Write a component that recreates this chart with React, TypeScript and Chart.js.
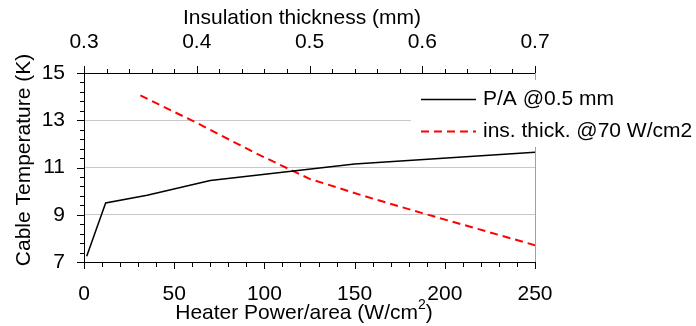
import React, { useEffect, useRef } from "react";
import { Chart, registerables } from "chart.js";

Chart.register(...registerables);

// Heater power/area (W/cm2) vs cable temperature (K), at 0.5 mm insulation
const powerValues = [1.5, 12, 35, 70, 150, 250];
const powerTemps = [7.24, 9.5, 9.83, 10.45, 11.15, 11.65];
// Insulation thickness (mm) vs cable temperature (K), at 70 W/cm2
const thickValues = [0.35, 0.4, 0.45, 0.5, 0.55, 0.6, 0.7];
const thickTemps = [14.05, 12.89, 11.66, 10.52, 9.77, 9.07, 7.71];

const seriesLabels = ["P/A @0.5 mm", "ins. thick. @70 W/cm2"];
const powerRange = [0, 250];
const thickRange = [0.3, 0.7];
const tempRange = [7, 15];
const powerStep = 50;
const thickStep = 0.1;
const tempStep = 2;

const FONT = '"Liberation Sans", Arial, Helvetica, sans-serif';

const decoPlugin = {
  id: "deco",
  afterDraw(chart: any) {
    const ctx = chart.ctx;
    const area = chart.chartArea;
    const sx = chart.scales.x;
    const sx2 = chart.scales.x2;
    const sy = chart.scales.y;
    ctx.save();
    ctx.strokeStyle = "#000";
    ctx.lineWidth = 1;
    // bottom ticks
    for (let i = 0; i <= 25; i++) {
      const v = i * 10;
      const px = Math.round(sx.getPixelForValue(v)) + 0.5;
      const len = i % 5 === 0 ? 7 : 5;
      ctx.beginPath();
      ctx.moveTo(px, area.bottom);
      ctx.lineTo(px, area.bottom + len);
      ctx.stroke();
    }
    // top ticks
    for (let i = 0; i <= 20; i++) {
      const v = 0.3 + i * 0.02;
      const px = Math.round(sx2.getPixelForValue(v)) + 0.5;
      const len = i % 5 === 0 ? 7 : 4;
      ctx.beginPath();
      ctx.moveTo(px, area.top);
      ctx.lineTo(px, area.top - len);
      ctx.stroke();
    }
    // left ticks
    for (let i = 0; i <= 20; i++) {
      const v = 7 + i * 0.4;
      const py = Math.round(sy.getPixelForValue(v)) + 0.5;
      const len = i % 5 === 0 ? 7 : 4;
      ctx.beginPath();
      ctx.moveTo(area.left, py);
      ctx.lineTo(area.left - len, py);
      ctx.stroke();
    }
    // right border (gray)
    ctx.strokeStyle = "#a0a0a0";
    ctx.beginPath();
    ctx.moveTo(Math.round(area.right) + 0.5, area.top);
    ctx.lineTo(Math.round(area.right) + 0.5, area.bottom);
    ctx.stroke();

    // axis titles
    ctx.fillStyle = "#000";
    ctx.font = `21px ${FONT}`;
    ctx.textBaseline = "middle";
    ctx.textAlign = "center";
    ctx.fillText("Insulation thickness (mm)", 302, 18);

    // bottom title with superscript
    const main = "Heater Power/area (W/cm";
    const sup = "2";
    const tail = ")";
    ctx.font = `21px ${FONT}`;
    const wMain = ctx.measureText(main).width;
    const wTail = ctx.measureText(tail).width;
    ctx.font = `14px ${FONT}`;
    const wSup = ctx.measureText(sup).width;
    const total = wMain + wSup + wTail;
    let x0 = 304 - total / 2;
    ctx.textAlign = "left";
    ctx.font = `21px ${FONT}`;
    ctx.fillText(main, x0, 313);
    ctx.font = `14px ${FONT}`;
    ctx.fillText(sup, x0 + wMain, 305);
    ctx.font = `21px ${FONT}`;
    ctx.fillText(tail, x0 + wMain + wSup, 313);

    // y title
    ctx.save();
    ctx.translate(24, 160);
    ctx.rotate(-Math.PI / 2);
    ctx.textAlign = "center";
    ctx.fillText("Cable Temperature (K)", 0, 0);
    ctx.restore();

    // legend
    ctx.fillStyle = "#fff";
    ctx.fillRect(411, 80, 285, 67);
    const ds = chart.data.datasets;
    const rows = [99.5, 131.5];
    ds.forEach((d: any, i: number) => {
      ctx.save();
      ctx.strokeStyle = d.borderColor;
      ctx.lineWidth = d.borderWidth;
      ctx.setLineDash(d.borderDash || []);
      ctx.beginPath();
      ctx.moveTo(421, rows[i]);
      ctx.lineTo(476, rows[i]);
      ctx.stroke();
      ctx.restore();
      ctx.fillStyle = "#000";
      ctx.font = `21px ${FONT}`;
      ctx.textAlign = "left";
      ctx.textBaseline = "middle";
      ctx.fillText(d.label, 483, rows[i]);
    });
    ctx.restore();
  },
};

export default function App() {
  const ref = useRef<HTMLCanvasElement | null>(null);
  useEffect(() => {
    if (!ref.current) return;
    Chart.defaults.font.family = FONT;
    const chart = new Chart(ref.current, {
      type: "line",
      data: {
        datasets: [
          {
            label: seriesLabels[0],
            data: powerValues.map((x, i) => ({ x, y: powerTemps[i] })),
            xAxisID: "x",
            yAxisID: "y",
            borderColor: "#000000",
            borderWidth: 1.5,
            pointRadius: 0,
            tension: 0,
            fill: false,
          },
          {
            label: seriesLabels[1],
            data: thickValues.map((x, i) => ({ x, y: thickTemps[i] })),
            xAxisID: "x2",
            yAxisID: "y",
            borderColor: "#ff0000",
            borderWidth: 2,
            borderDash: [8, 5],
            pointRadius: 0,
            tension: 0,
            fill: false,
          },
        ],
      },
      options: {
        responsive: false,
        animation: false,
        layout: { padding: { left: 0, right: 161, top: 0, bottom: 0 } },
        plugins: { legend: { display: false }, tooltip: { enabled: false } },
        scales: {
          x: {
            type: "linear",
            position: "bottom",
            min: powerRange[0],
            max: powerRange[1],
            grid: { display: false, drawTicks: false },
            border: { display: true, color: "#000", width: 1 },
            ticks: {
              stepSize: powerStep,
              color: "#000",
              font: { size: 21, family: FONT },
              padding: 20,
              maxRotation: 0,
            },
            afterFit: (s: any) => {
              s.height = 64;
            },
          },
          x2: {
            type: "linear",
            position: "top",
            min: thickRange[0],
            max: thickRange[1],
            grid: { display: false, drawTicks: false },
            border: { display: true, color: "#000", width: 1 },
            ticks: {
              stepSize: thickStep,
              color: "#000",
              font: { size: 21, family: FONT },
              padding: 18,
              maxRotation: 0,
              callback: (v: any) => Number(v).toFixed(1),
            },
            afterFit: (s: any) => {
              s.height = 73;
            },
          },
          y: {
            type: "linear",
            position: "left",
            min: tempRange[0],
            max: tempRange[1],
            grid: {
              display: true,
              drawTicks: false,
              lineWidth: 1,
              color: (c: any) =>
                c.tick && (c.tick.value === tempRange[0] || c.tick.value === tempRange[1])
                  ? "rgba(0,0,0,0)"
                  : "#c8c8c8",
            },
            border: { display: true, color: "#000", width: 1 },
            ticks: {
              stepSize: tempStep,
              color: "#000",
              font: { size: 21, family: FONT },
              padding: 19,
            },
            afterFit: (s: any) => {
              s.width = 84;
            },
          },
        },
      },
      plugins: [decoPlugin],
    });
    return () => chart.destroy();
  }, []);
  return (
    <div style={{ position: "absolute", left: 0, top: 0, width: 696, height: 326, background: "#fff" }}>
      <canvas ref={ref} width={696} height={326} style={{ display: "block" }} />
    </div>
  );
}
